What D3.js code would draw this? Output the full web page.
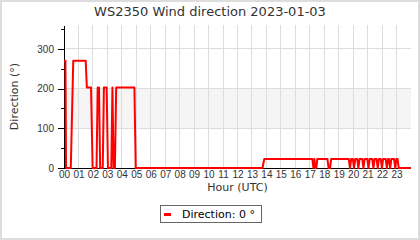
<!DOCTYPE html>
<html>
<head>
<meta charset="utf-8">
<title>WS2350 Wind direction</title>
<style>
body { margin: 0; background: #fff; }
svg { display: block; font-family: "DejaVu Sans", sans-serif; }
.grid line { stroke: #dddddd; shape-rendering: crispEdges; }
.axis text { fill: #333; font-size: 10px; }
.axis path, .axis line { stroke: #000; shape-rendering: crispEdges; }
</style>
</head>
<body>
<script src="https://d3js.org/d3.v7.min.js"></script>
<script>

// readings: hour of day (UTC) and wind direction in degrees
const hours = [
  0, 0.1, 0.14, 0.47, 0.64, 1.5, 1.58, 1.87, 1.98,
  2.25, 2.33, 2.42, 2.5, 2.68, 2.76, 2.95, 3.04,
  3.27, 3.35, 3.43, 3.52, 3.61, 4.87, 4.96,
  13.73, 13.85, 17.18, 17.25, 17.32, 17.38, 17.45, 17.52,
  18.22, 18.3, 18.4, 18.48, 19.7, 19.78, 19.86,
  19.98, 20.06, 20.14, 20.28, 20.36, 20.44,
  20.63, 20.71, 20.79, 20.98, 21.06, 21.14,
  21.32, 21.4, 21.48, 21.62, 21.7, 21.78, 21.91, 21.99, 22.07,
  22.25, 22.33, 22.41, 22.48, 22.56, 22.64,
  22.83, 22.91, 22.99, 23.07, 23.15, 24
];
const direction = [
  270, 270, 0, 0, 270, 270, 202.5, 202.5, 0,
  0, 202.5, 202.5, 0, 0, 202.5, 202.5, 0,
  0, 202.5, 0, 0, 202.5, 202.5, 0,
  0, 22.5, 22.5, 0, 22.5, 0, 0, 22.5,
  22.5, 0, 0, 22.5, 22.5, 0, 22.5,
  22.5, 0, 22.5, 22.5, 0, 22.5,
  22.5, 0, 22.5, 22.5, 0, 22.5,
  22.5, 0, 22.5, 22.5, 0, 22.5, 22.5, 0, 22.5,
  22.5, 0, 22.5, 22.5, 0, 22.5,
  22.5, 0, 22.5, 22.5, 0, 0
];
const hourTicks = d3.range(0, 24);
const yTicks = [0, 100, 200, 300];
const yMinorTicks = [50, 150, 250, 350];

const width = 420, height = 240;
const margin = {top: 25, right: 9, bottom: 72, left: 64};
const w = width - margin.left - margin.right;
const h = height - margin.top - margin.bottom;

const svg = d3.select("body").append("svg")
    .attr("width", width)
    .attr("height", height);

// outer frame
svg.append("rect")
    .attr("x", 1).attr("y", 1)
    .attr("width", width - 2).attr("height", height - 2)
    .attr("fill", "#fff")
    .attr("stroke", "#dddddd")
    .attr("stroke-width", 2);

svg.append("text")
    .attr("x", width / 2)
    .attr("y", 16)
    .attr("text-anchor", "middle")
    .style("font-size", "13px")
    .style("fill", "#333")
    .text("WS2350 Wind direction 2023-01-03");

const g = svg.append("g")
    .attr("transform", "translate(" + margin.left + "," + margin.top + ")");

const x = d3.scaleLinear().domain([0, 24]).range([0, w]);
const y = d3.scaleLinear().domain([0, 360]).range([h, 0]);

// shaded band between 100 and 200
g.append("rect")
    .attr("x", 0)
    .attr("y", y(200))
    .attr("width", w)
    .attr("height", y(100) - y(200))
    .attr("fill", "#f5f5f5");

// gridlines
g.append("g")
    .attr("class", "grid")
    .selectAll("line")
    .data(hourTicks.slice(1))
  .enter().append("line")
    .attr("x1", d => x(d)).attr("x2", d => x(d))
    .attr("y1", 0).attr("y2", h);

g.append("g")
    .attr("class", "grid")
    .selectAll("line")
    .data(yTicks.slice(1))
  .enter().append("line")
    .attr("x1", 0).attr("x2", w)
    .attr("y1", d => y(d)).attr("y2", d => y(d));

// y axis, major and minor ticks (drawn before the line so the trace sits on top)
g.append("g")
    .attr("class", "axis")
    .call(d3.axisLeft(y).tickValues(yMinorTicks).tickSize(3).tickFormat(""))
    .call(a => a.select(".domain").remove());

g.append("g")
    .attr("class", "axis")
    .call(d3.axisLeft(y).tickValues(yTicks).tickSizeInner(6).tickSizeOuter(0).tickPadding(4));

// x axis
g.append("g")
    .attr("class", "axis")
    .attr("transform", "translate(0," + h + ")")
    .call(d3.axisBottom(x)
        .tickValues(hourTicks)
        .tickSize(0)
        .tickPadding(3)
        .tickFormat(d => String(d).padStart(2, "0")))
    .call(a => a.select(".domain").attr("d", "M0,0.5H" + w));

// the wind direction line
const line = d3.line()
    .x((d, i) => x(hours[i]))
    .y(d => y(d));

g.append("path")
    .datum(direction)
    .attr("fill", "none")
    .attr("stroke", "#ff0000")
    .attr("stroke-width", 2)
    .attr("stroke-linejoin", "round")
    .attr("d", line);

svg.append("text")
    .attr("x", margin.left + w / 2)
    .attr("y", 191)
    .attr("text-anchor", "middle")
    .style("font-size", "11px")
    .style("fill", "#333")
    .text("Hour (UTC)");

svg.append("text")
    .attr("transform", "rotate(-90)")
    .attr("x", -(margin.top + h / 2))
    .attr("y", 18)
    .attr("text-anchor", "middle")
    .style("font-size", "11px")
    .style("fill", "#333")
    .text("Direction (°)");

// legend
const legend = svg.append("g")
    .attr("transform", "translate(160,205)");
legend.append("rect")
    .attr("x", 0.5).attr("y", 0.5)
    .attr("width", 101).attr("height", 17)
    .attr("fill", "#fff")
    .attr("stroke", "#666");
legend.append("line")
    .attr("x1", 4).attr("x2", 11)
    .attr("y1", 9.5).attr("y2", 9.5)
    .attr("stroke", "#ff0000")
    .attr("stroke-width", 3);
legend.append("text")
    .attr("x", 22)
    .attr("y", 13)
    .style("font-size", "11px")
    .style("fill", "#000")
    .text("Direction: 0 °");

</script>
</body>
</html>
